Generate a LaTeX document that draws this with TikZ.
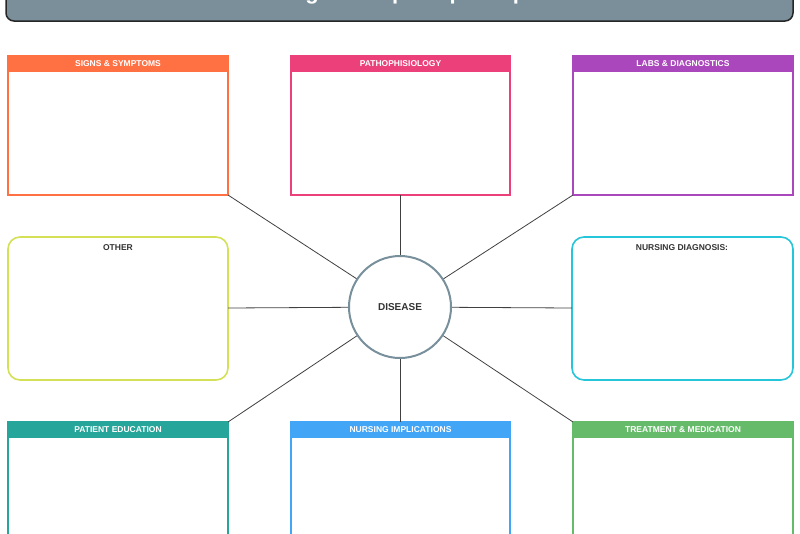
\documentclass[tikz,border=0pt]{standalone}
\usepackage{fontspec}
\setmainfont{Liberation Sans}
\begin{document}
\begin{tikzpicture}[x=1pt,y=-1pt,
 box/.style={draw=#1,line width=1.6pt,fill=white},
 rbox/.style={draw=#1,line width=1.6pt,rounded corners=12pt,fill=white},
 lbl/.style={font=\bfseries\fontsize{8.5}{10}\selectfont},
 conn/.style={draw=black!75,line width=0.8pt}]
\definecolor{c1}{HTML}{FF7043}\definecolor{c2}{HTML}{EC407A}\definecolor{c3}{HTML}{AB47BC}
\definecolor{c4}{HTML}{D4E157}\definecolor{c5}{HTML}{26C6DA}\definecolor{c6}{HTML}{26A69A}
\definecolor{c7}{HTML}{42A5F5}\definecolor{c8}{HTML}{66BB6A}\definecolor{tg}{HTML}{7A8F99}
\definecolor{cg}{HTML}{78909C}
\useasboundingbox (0,0) rectangle (800,533);
\draw[fill=tg,draw=black!85,line width=1.5pt,rounded corners=8pt] (6,-40) rectangle (793,21);
\node[text=white,font=\bfseries\fontsize{22}{24}\selectfont,anchor=base] (title) at (400,-1) {Nursing Concept Map Template};
\node[circle,draw=cg,line width=2pt,minimum size=102pt,fill=white,font=\bfseries\fontsize{10}{12}\selectfont,text=black!80] (d) at (400,307) {DISEASE};
\foreach \n/\xa/\xb/\c/\t in {a/8/228/c1/SIGNS \& SYMPTOMS, b/291/510/c2/PATHOPHISIOLOGY, c/573/793/c3/LABS \& DIAGNOSTICS}{
 \draw[box=\c] (\xa,56) rectangle (\xb,195);
 \draw[fill=\c,draw=\c,line width=1.6pt] (\xa,56) rectangle (\xb,71);
 \node[text=white,lbl] at ({(\xa+\xb)/2},64) {\t};
}
\foreach \n/\xa/\xb/\c/\t in {f/8/228/c6/PATIENT EDUCATION, g/291/510/c7/NURSING IMPLICATIONS, h/573/793/c8/TREATMENT \& MEDICATION}{
 \draw[box=\c] (\xa,422) rectangle (\xb,560);
 \draw[fill=\c,draw=\c,line width=1.6pt] (\xa,422) rectangle (\xb,437);
 \node[text=white,lbl] at ({(\xa+\xb)/2},430) {\t};
}
\draw[rbox=c4] (8,237) rectangle (228,380);
\node[lbl,text=black!80] at (118,248) {OTHER};
\draw[rbox=c5] (572,237) rectangle (793,380);
\node[lbl,text=black!80] at (682,248) {NURSING DIAGNOSIS:};
\coordinate (tl) at (228,195); \coordinate (tm) at (400,195); \coordinate (tr) at (573,195);
\coordinate (ml) at (228,308); \coordinate (mr) at (572,308);
\coordinate (bl) at (228,422); \coordinate (bm) at (400,422); \coordinate (br) at (573,422);
\foreach \p in {tl,tm,tr,ml,mr,bl,bm,br}{\draw[conn] (\p) -- (d);}
\end{tikzpicture}
\end{document}
